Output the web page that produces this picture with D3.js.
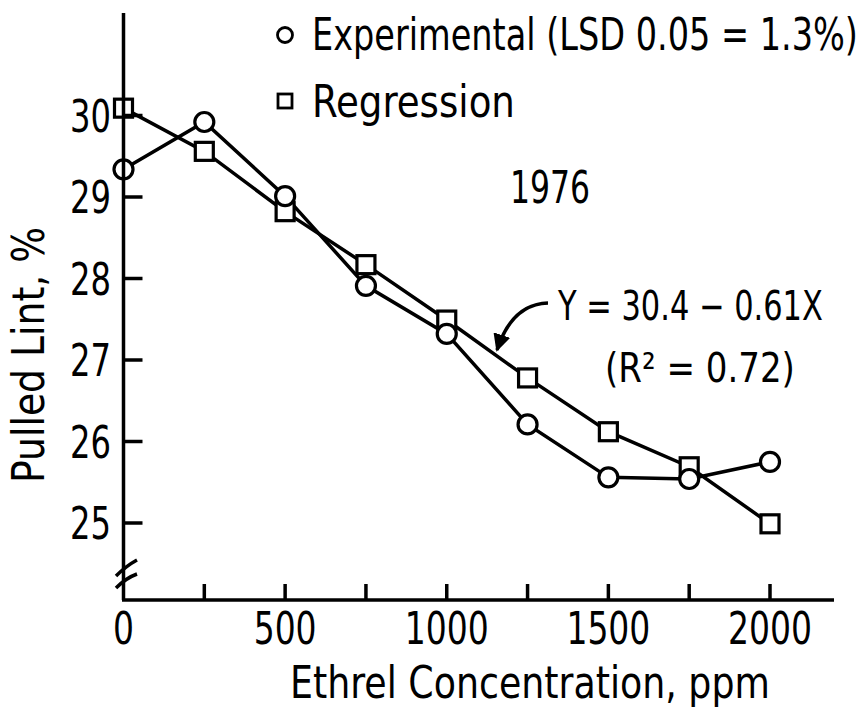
<!DOCTYPE html>
<html>
<head>
<meta charset="utf-8">
<script src="https://cdn.jsdelivr.net/npm/d3@7"></script>
<style>
  body { margin: 0; background: #fff; }
  text { font-family: "Liberation Sans Narrow", "DejaVu Sans Condensed", sans-serif; fill: #000; }
</style>
</head>
<body>
<div id="chart"></div>
<script>
const width = 865;
const height = 711;

// ppm
const concentrations = [0, 250, 500, 750, 1000, 1250, 1500, 1750, 2000];
// Pulled lint, %
const experimental = [29.34, 29.92, 29.01, 27.91, 27.32, 26.21, 25.56, 25.54, 25.75];
const regression = [30.09, 29.56, 28.82, 28.17, 27.49, 26.78, 26.12, 25.69, 24.99];

const xTicks = [250, 500, 750, 1000, 1250, 1500, 1750, 2000];
const xLabels = [0, 500, 1000, 1500, 2000];
const yTicks = [25, 26, 27, 28, 29, 30];

const svg = d3.select("#chart")
    .append("svg")
    .attr("width", width)
    .attr("height", height);

const x = d3.scaleLinear().domain([0, 2000]).range([123.5, 770]);
const y = d3.scaleLinear().domain([25, 30]).range([523, 115.5]);

const x0 = 123.5, yBase = 600;

// texte posé en (px, py) puis compressé horizontalement à la largeur w
function label(txt, px, py, w, size, anchor, rot) {
    const t = svg.append("text")
        .attr("text-anchor", anchor || "start")
        .style("font-size", size + "px")
        .text(txt);
    const s = w / t.node().getComputedTextLength();
    t.attr("transform", `translate(${px},${py})` + (rot ? ` rotate(${rot})` : "") + ` scale(${s},1)`);
    return t;
}

const expData = concentrations.map((c, i) => ({ c, v: experimental[i] }));
const regData = concentrations.map((c, i) => ({ c, v: regression[i] }));

const line = d3.line().x(d => x(d.c)).y(d => y(d.v));

svg.append("path").datum(regData)
    .attr("d", line)
    .attr("fill", "none").attr("stroke", "#000").attr("stroke-width", 3.5);
svg.append("path").datum(expData)
    .attr("d", line)
    .attr("fill", "none").attr("stroke", "#000").attr("stroke-width", 3.5);

// marqueurs
svg.selectAll(".sq").data(regData).enter().append("rect")
    .attr("class", "sq")
    .attr("x", d => x(d.c) - 9).attr("y", d => y(d.v) - 9)
    .attr("width", 18).attr("height", 18)
    .attr("fill", "#fff").attr("stroke", "#000").attr("stroke-width", 3.2);
svg.selectAll(".ci").data(expData).enter().append("circle")
    .attr("class", "ci")
    .attr("cx", d => x(d.c)).attr("cy", d => y(d.v))
    .attr("r", 9.5)
    .attr("fill", "#fff").attr("stroke", "#000").attr("stroke-width", 3.2);

// axes
svg.append("line")
    .attr("x1", x0).attr("x2", x0).attr("y1", 13).attr("y2", yBase)
    .attr("stroke", "#000").attr("stroke-width", 3.5);
svg.append("line")
    .attr("x1", x0 - 1.5).attr("x2", 834).attr("y1", yBase).attr("y2", yBase)
    .attr("stroke", "#000").attr("stroke-width", 3.5);

// coupure de l'axe
svg.append("path")
    .attr("d", "M116,576 Q126,566 137,560 M116,588 Q126,578 137,574")
    .attr("fill", "none").attr("stroke", "#000").attr("stroke-width", 3.5);

// graduations X
svg.selectAll(".xt").data(xTicks).enter().append("line")
    .attr("x1", d => x(d)).attr("x2", d => x(d))
    .attr("y1", yBase).attr("y2", yBase - 16)
    .attr("stroke", "#000").attr("stroke-width", 3.5);
xLabels.forEach(d => label(String(d), x(d), 644, String(d).length * 21, 44, "middle"));

// graduations Y
svg.selectAll(".yt").data(yTicks).enter().append("line")
    .attr("x1", x0).attr("x2", x0 + 19)
    .attr("y1", d => y(d)).attr("y2", d => y(d))
    .attr("stroke", "#000").attr("stroke-width", 3.5);
yTicks.forEach(d => label(String(d), 111, y(d) + 16, 41, 44, "end"));

// titres des axes
label("Ethrel Concentration, ppm", 530, 698, 480, 44, "middle");
label("Pulled Lint, %", 44, 355, 256, 44, "middle", -90);

// légende
svg.append("circle")
    .attr("cx", 285).attr("cy", 35).attr("r", 7.5)
    .attr("fill", "#fff").attr("stroke", "#000").attr("stroke-width", 2.8);
label("Experimental (LSD 0.05 = 1.3%)", 312, 50, 546, 44);
svg.append("rect")
    .attr("x", 278).attr("y", 94).attr("width", 14).attr("height", 14)
    .attr("fill", "#fff").attr("stroke", "#000").attr("stroke-width", 2.8);
label("Regression", 312, 117, 203, 44);

label("1976", 550, 203, 80, 44, "middle");

// équation de régression
label("Y = 30.4 \u2212 0.61X", 558, 320, 265, 40);
label("(R\u00B2 = 0.72)", 605, 382, 190, 40);

// flèche
svg.append("defs").append("marker")
    .attr("id", "arr")
    .attr("viewBox", "0 0 10 10")
    .attr("refX", 9).attr("refY", 5)
    .attr("markerWidth", 5).attr("markerHeight", 5)
    .attr("orient", "auto")
    .append("path").attr("d", "M0,0 L10,5 L0,10 z").attr("fill", "#000");
svg.append("path")
    .attr("d", "M548,303 Q512,304 497,350")
    .attr("fill", "none").attr("stroke", "#000").attr("stroke-width", 3.5)
    .attr("marker-end", "url(#arr)");
</script>
</body>
</html>
